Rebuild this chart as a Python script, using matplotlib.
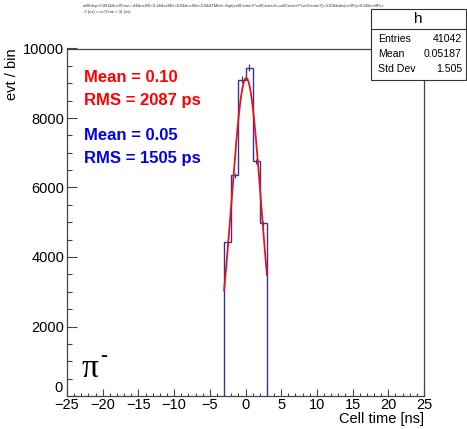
import numpy as np
import matplotlib
matplotlib.use("Agg")
import matplotlib.pyplot as plt
from matplotlib.patches import Rectangle
from matplotlib.ticker import MultipleLocator, FuncFormatter

plt.rcParams["font.family"] = ["Liberation Sans", "DejaVu Sans"]

# cell time histogram, 1 ns bins between -3 and 3 ns
bin_edges = [-3, -2, -1, 0, 1, 2, 3]
bin_counts = [4420, 6350, 9100, 9450, 6750, 4970]

# gaussian fit result (ns)
fit_amp = 9150
fit_mean = 0.10
fit_sigma = 2.087

stat_labels = ["Entries", "Mean", "Std Dev"]
stat_values = ["41042", "0.05187", "1.505"]

cut_text = ("cellEdep>0.001&&cellTime>-4&&cellID<0.1&&cellDx<0.0&&cellDz<0.0&&TMath::Sqrt(cellCenterX*cellCenterX"
            "+cellCenterY*cellCenterY)<210&&abs(cellPz)>0.0&&cellPz>\n-3 (ns) < cellTime < 3) (ns)")

W, H = 467, 429
fig = plt.figure(figsize=(W / 100, H / 100), dpi=100)
ax = fig.add_axes([67 / W, 1 - 396 / H, (424 - 67) / W, (396 - 48.5) / H])

edges = np.array(bin_edges, dtype=float)
counts = np.array(bin_counts, dtype=float)
hist_col = "#34349a"
ax.stairs(counts, edges, color=hist_col, lw=1.0, baseline=0)
centers = 0.5 * (edges[1:] + edges[:-1])
ax.errorbar(centers, counts, yerr=np.sqrt(counts), fmt="none", ecolor=hist_col, elinewidth=0.9)

xf = np.linspace(edges[0], edges[-1], 200)
ax.plot(xf, fit_amp * np.exp(-0.5 * ((xf - fit_mean) / fit_sigma) ** 2), color="#e8141c", lw=1.3)

ax.set_xlim(-25, 25)
ax.set_ylim(0, 10000)
ax.xaxis.set_major_locator(MultipleLocator(5))
ax.xaxis.set_minor_locator(MultipleLocator(1))
ax.yaxis.set_major_locator(MultipleLocator(2000))
ax.yaxis.set_minor_locator(MultipleLocator(500))
# the y "0" is drawn by hand, a little above the axis corner
ax.yaxis.set_major_formatter(FuncFormatter(lambda v, p: "" if v == 0 else f"{v:.0f}"))
ax.tick_params(axis="x", which="major", direction="in", length=5, width=0.8, labelsize=10.5, pad=1.5, color="#444444")
ax.tick_params(axis="x", which="minor", direction="in", length=2.5, width=0.8, color="#444444")
ax.tick_params(axis="y", which="major", direction="in", length=7.5, width=0.8, labelsize=10.5, pad=2, color="#444444")
ax.tick_params(axis="y", which="minor", direction="in", length=3.7, width=0.8, color="#444444")
for s in ax.spines.values():
    s.set_color("#444444")
    s.set_linewidth(0.9)
fig.text(63 / W, 1 - 388 / H, "0", fontsize=10.5, ha="right", va="center")

ax.set_xlabel("Cell time [ns]", fontsize=10.5, loc="right", labelpad=0)
ax.set_ylabel("evt / bin", fontsize=10.5, loc="top", labelpad=3)

tkw = dict(transform=fig.transFigure, fontsize=12, fontweight="bold", va="center", ha="left")
fig.text(84 / W, 1 - 77 / H, f"Mean = {fit_mean:.2f}", color="#ff0000", **tkw)
fig.text(84 / W, 1 - 100 / H, f"RMS = {fit_sigma * 1000:.0f} ps", color="#ff0000", **tkw)
fig.text(84 / W, 1 - 136 / H, f"Mean = {float(stat_values[1]):.2f}", color="#0000ee", **tkw)
fig.text(84 / W, 1 - 158 / H, f"RMS = {float(stat_values[2]) * 1000:.0f} ps", color="#0000ee", **tkw)

serif = ["Liberation Serif", "DejaVu Serif"]
fig.text(82 / W, 1 - 369 / H, "π", fontsize=24, family=serif, va="center", ha="left")
fig.text(100 / W, 1 - 356 / H, "-", fontsize=15, fontweight="bold", family=serif, va="center", ha="left")

fig.text(83 / W, 1 - 4 / H, cut_text, fontsize=2.9, va="top", ha="left", color="#333333", linespacing=1.5)

# statistics box
bx0, by0, bx1, by1 = 371, 9, 466, 80
fig.patches.append(Rectangle((bx0 / W, 1 - by1 / H), (bx1 - bx0) / W, (by1 - by0) / H,
                             transform=fig.transFigure, facecolor="white", edgecolor="#333333", lw=0.8, zorder=5))
fig.add_artist(plt.Line2D([bx0 / W, bx1 / W], [1 - 29 / H, 1 - 29 / H], transform=fig.transFigure,
                          color="#333333", lw=0.8, zorder=6))
fig.text((bx0 + bx1) / 2 / W, 1 - 19 / H, "h", fontsize=11, ha="center", va="center", zorder=7)
for i, (lab, val) in enumerate(zip(stat_labels, stat_values)):
    y = 1 - (39.5 + 14.5 * i) / H
    fig.text(378 / W, y, lab, fontsize=7.6, ha="left", va="center", zorder=7)
    fig.text(462 / W, y, val, fontsize=7.6, ha="right", va="center", zorder=7)

fig.savefig("out.png", dpi=100, facecolor="white")
